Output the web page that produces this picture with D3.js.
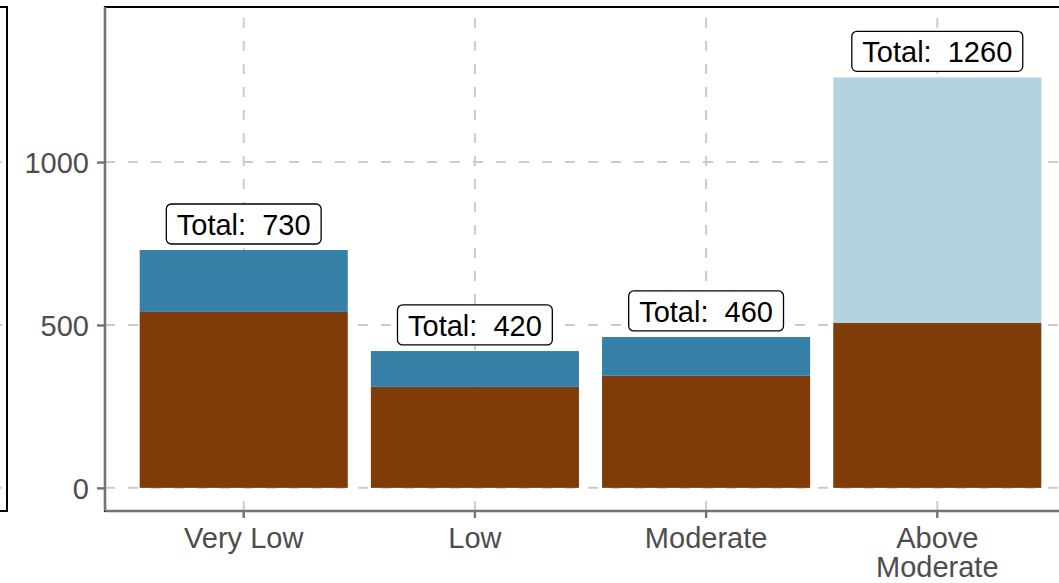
<!DOCTYPE html>
<html>
<head>
<meta charset="utf-8">
<script src="https://cdn.jsdelivr.net/npm/d3@7"></script>
<style>
  body { margin: 0; background: #fff; }
  svg { display: block; font-family: "Liberation Sans", Arial, sans-serif; }
</style>
</head>
<body>
<div id="chart"></div>
<script>
// categories and stacked values
var categories = ["Very Low", "Low", "Moderate", "Above Moderate"];
var categoryLines = [["Very Low"], ["Low"], ["Moderate"], ["Above", "Moderate"]];
var brownValues = [540, 310, 344, 506];
var blueValues = [190, 110, 119, 0];
var lightValues = [0, 0, 0, 754];
var yTicks = [0, 500, 1000];

var seriesKeys = ["brown", "blue", "light"];
var seriesColors = {brown: "#7f3b08", blue: "#3680a8", light: "#b4d3e0"};

const W = 1059, H = 583;
const panel = {left: 105, top: 7, right: 1076, bottom: 511};
const fontSize = "29px";

var rows = categories.map(function(c, i) {
  return {cat: c, brown: brownValues[i], blue: blueValues[i], light: lightValues[i]};
});
rows.forEach(function(r) { r.total = r.brown + r.blue + r.light; });

const svg = d3.select("#chart").append("svg")
  .attr("width", W).attr("height", H);

const x = d3.scaleBand()
  .domain(categories)
  .range([panel.left, panel.right])
  .paddingInner(0.1)
  .paddingOuter(0.15);

const y = d3.scaleLinear()
  .domain([-71, 1476])
  .range([panel.bottom, panel.top]);

// the neighbouring panel on the left, only its edge is visible
const leftPanel = svg.append("g");
yTicks.forEach(function(t) {
  leftPanel.append("line")
    .attr("x1", -100).attr("x2", 7)
    .attr("y1", y(t)).attr("y2", y(t))
    .attr("stroke", "#cccccc").attr("stroke-width", 2)
    .attr("stroke-dasharray", "10,13");
});
leftPanel.append("rect")
  .attr("x", -100).attr("y", panel.top)
  .attr("width", 107).attr("height", panel.bottom - panel.top)
  .attr("fill", "none").attr("stroke", "#000").attr("stroke-width", 2);

// grid
const grid = svg.append("g");
yTicks.forEach(function(t) {
  grid.append("line")
    .attr("x1", panel.left).attr("x2", panel.right)
    .attr("y1", y(t)).attr("y2", y(t))
    .attr("stroke", "#cccccc").attr("stroke-width", 2)
    .attr("stroke-dasharray", "10,13");
});
categories.forEach(function(c) {
  var cx = x(c) + x.bandwidth() / 2;
  grid.append("line")
    .attr("x1", cx).attr("x2", cx)
    .attr("y1", panel.bottom).attr("y2", panel.top)
    .attr("stroke", "#cccccc").attr("stroke-width", 2)
    .attr("stroke-dasharray", "10,13");
});

// stacked bars
const stack = d3.stack().keys(seriesKeys);
const layers = stack(rows);

svg.append("g").selectAll("g")
  .data(layers)
  .join("g")
    .attr("fill", function(d) { return seriesColors[d.key]; })
  .selectAll("rect")
  .data(function(d) { return d; })
  .join("rect")
    .attr("x", function(d) { return x(d.data.cat); })
    .attr("width", x.bandwidth())
    .attr("y", function(d) { return y(d[1]); })
    .attr("height", function(d) { return Math.max(0, y(d[0]) - y(d[1])); });

// panel border and axis lines
svg.append("rect")
  .attr("x", panel.left).attr("y", panel.top)
  .attr("width", panel.right - panel.left).attr("height", panel.bottom - panel.top)
  .attr("fill", "none").attr("stroke", "#000").attr("stroke-width", 2);

const axisColor = "#737373";
const yAxis = svg.append("g")
  .attr("transform", `translate(${panel.left},0)`)
  .call(d3.axisLeft(y).tickValues(yTicks).tickFormat(d3.format("d")).tickSize(8).tickPadding(8));
const xAxis = svg.append("g")
  .attr("transform", `translate(0,${panel.bottom})`)
  .call(d3.axisBottom(x).tickSize(7).tickPadding(10));

[yAxis, xAxis].forEach(function(ax) {
  ax.select(".domain").attr("stroke", axisColor).attr("stroke-width", 2.6);
  ax.selectAll(".tick line").attr("stroke", axisColor).attr("stroke-width", 2.4);
  ax.selectAll("text")
    .attr("fill", "#4d4d4d")
    .style("font-size", fontSize)
    .style("font-family", "'Liberation Sans', Arial, sans-serif");
});
yAxis.select(".domain").attr("d", `M0,${panel.top}V${panel.bottom}`);
xAxis.select(".domain").attr("d", `M${panel.left},0H${panel.right}`);
yAxis.selectAll(".tick text").attr("dy", "0.36em");

// multi-line x labels
xAxis.selectAll(".tick text")
  .attr("dy", null)
  .attr("y", 38)
  .text(null)
  .each(function(d, i) {
    var t = d3.select(this);
    categoryLines[i].forEach(function(line, k) {
      t.append("tspan").attr("x", 0).attr("y", 37 + k * 29).text(line);
    });
  });

// total labels
const labels = svg.append("g").selectAll("g")
  .data(rows)
  .join("g")
    .attr("transform", function(d) {
      return `translate(${x(d.cat) + x.bandwidth() / 2},${y(d.total + 80)})`;
    });

labels.append("rect").attr("class", "lbl-box");
labels.append("text")
  .attr("text-anchor", "middle")
  .attr("y", 11)
  .attr("fill", "#000")
  .style("font-size", fontSize)
  .style("white-space", "pre")
  .attr("xml:space", "preserve")
  .text(function(d) { return "Total:  " + Math.round(d.total / 10) * 10; });

labels.each(function() {
  var g = d3.select(this);
  var w = g.select("text").node().getComputedTextLength() + 21;
  g.select("rect")
    .attr("x", -w / 2).attr("y", -20)
    .attr("width", w).attr("height", 40)
    .attr("rx", 5).attr("ry", 5)
    .attr("fill", "#fff").attr("stroke", "#000").attr("stroke-width", 1.3);
});
</script>
</body>
</html>
